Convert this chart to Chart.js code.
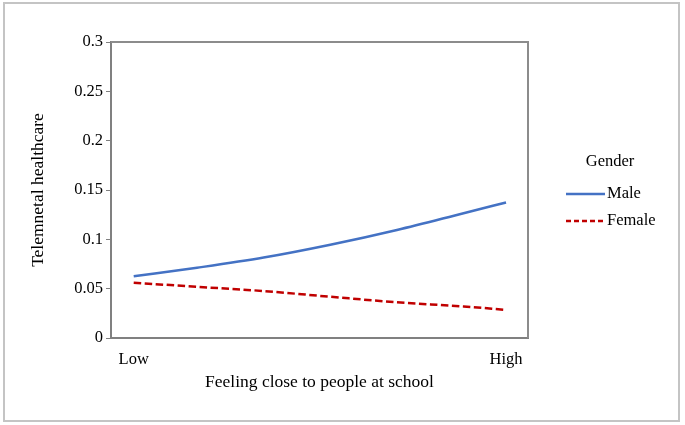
<!DOCTYPE html>
<html>
<head>
<meta charset="utf-8">
<script src="https://cdn.jsdelivr.net/npm/chart.js@4"></script>
<style>
  html, body { margin: 0; padding: 0; background: #fff; }
</style>
</head>
<body>
<canvas id="chart" width="685" height="425"></canvas>
<script>
// values (x: 0 = Low, 1 = High)
const levels = [0, 0.17, 0.349, 0.528, 0.707, 0.886, 1];
const xTickLabels = ["Low", "High"];
const male = [0.0625, 0.0712, 0.0815, 0.0945, 0.1095, 0.1265, 0.1374];
const female = [0.0560, 0.0519, 0.0476, 0.0418, 0.0362, 0.0320, 0.0285];
const yTicks = [0, 0.05, 0.1, 0.15, 0.2, 0.25, 0.3];
const seriesNames = ["Male", "Female"];
const legendTitle = "Gender";

const serif = "'Liberation Serif', 'Times New Roman', serif";
const tickFont = { family: serif, size: 16.5 };
const titleFont = { family: serif, size: 17.5 };

function pts(ys) {
  return ys.map((y, i) => ({ x: levels[i], y: y }));
}

// white page with the light grey outer frame
const pageFrame = {
  id: "pageFrame",
  beforeDraw(chart) {
    const c = chart.ctx;
    c.save();
    c.fillStyle = "#fff";
    c.fillRect(0, 0, chart.width, chart.height);
    c.strokeStyle = "#c4c4c4";
    c.lineWidth = 2;
    c.strokeRect(4, 3, 675, 418);
    c.restore();
  },
  afterDraw(chart) {
    // top and right sides of the plot box
    const a = chart.chartArea;
    const c = chart.ctx;
    c.save();
    c.strokeStyle = "#8c8c8c";
    c.lineWidth = 2;
    c.beginPath();
    c.moveTo(a.left, a.top);
    c.lineTo(a.right, a.top);
    c.lineTo(a.right, a.bottom);
    c.stroke();
    c.restore();
  }
};

// legend to the right, styled from the datasets
const sideLegend = {
  id: "sideLegend",
  afterDraw(chart) {
    const c = chart.ctx;
    c.save();
    c.font = "16.5px " + serif;
    c.fillStyle = "#000";
    c.textAlign = "center";
    c.textBaseline = "middle";
    c.fillText(legendTitle, 610, 162);
    chart.data.datasets.forEach((ds, i) => {
      const y = 194 + i * 27;
      c.strokeStyle = ds.borderColor;
      c.lineWidth = 2.5;
      c.setLineDash(ds.borderDash ? [5, 3] : []);
      c.beginPath();
      c.moveTo(566, y);
      c.lineTo(605, y);
      c.stroke();
      c.setLineDash([]);
      c.textAlign = "left";
      c.fillText(ds.label, 607, y);
    });
    c.restore();
  }
};

new Chart(document.getElementById("chart"), {
  type: "line",
  data: {
    datasets: [
      {
        label: seriesNames[0],
        data: pts(male),
        borderColor: "#4472C4",
        borderWidth: 2.5,
        pointRadius: 0,
        cubicInterpolationMode: "monotone",
      },
      {
        label: seriesNames[1],
        data: pts(female),
        borderColor: "#C00000",
        borderWidth: 2.5,
        borderDash: [7.5, 3.5],
        pointRadius: 0,
        cubicInterpolationMode: "monotone",
      },
    ],
  },
  options: {
    responsive: false,
    animation: false,
    layout: { padding: { top: 42, right: 157, bottom: 0, left: 0 } },
    plugins: {
      legend: { display: false },
      tooltip: { enabled: false },
    },
    scales: {
      x: {
        type: "linear",
        min: -0.061,
        max: 1.059,
        afterBuildTicks: (s) => { s.ticks = [{ value: 0 }, { value: 1 }]; },
        afterFit: (s) => { s.height = 87; },
        ticks: {
          callback: (v, i) => xTickLabels[i],
          font: tickFont,
          color: "#000",
          padding: 12,
          maxRotation: 0,
          autoSkip: false,
        },
        grid: { display: false, drawTicks: false },
        border: { display: true, color: "#808080", width: 2 },
        title: {
          display: true,
          text: "Feeling close to people at school",
          font: titleFont,
          color: "#000",
          padding: { top: 0, bottom: 32 },
        },
      },
      y: {
        min: 0,
        max: 0.3,
        afterBuildTicks: (s) => { s.ticks = yTicks.map((v) => ({ value: v })); },
        afterFit: (s) => { s.width = 111; },
        ticks: {
          callback: (v) => String(parseFloat(v.toFixed(2))),
          font: tickFont,
          color: "#000",
          padding: 3,
        },
        grid: {
          display: true,
          drawOnChartArea: false,
          drawTicks: true,
          tickLength: 5,
          color: "#808080",
        },
        border: { display: true, color: "#808080", width: 2 },
        title: {
          display: true,
          text: "Telemnetal healthcare",
          font: titleFont,
          color: "#000",
          padding: { top: 28, bottom: 0 },
        },
      },
    },
  },
  plugins: [pageFrame, sideLegend],
});
</script>
</body>
</html>
